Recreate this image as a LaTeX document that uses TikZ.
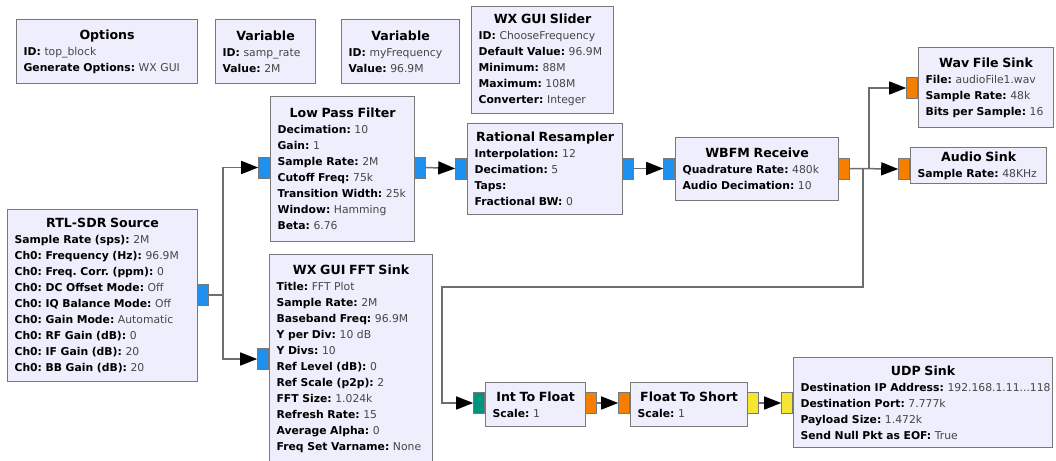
\documentclass[tikz,border=0pt]{standalone}
\usepackage{fontspec}
\setmainfont{DejaVu Sans}
\usetikzlibrary{arrows.meta}
\frenchspacing
\definecolor{blkfill}{RGB}{238,238,252}
\definecolor{blkdraw}{RGB}{120,120,120}
\definecolor{wirec}{RGB}{110,110,110}
\definecolor{pblue}{RGB}{30,144,240}
\definecolor{porange}{RGB}{245,128,0}
\definecolor{pteal}{RGB}{0,150,125}
\definecolor{pyellow}{RGB}{245,230,50}
\definecolor{valc}{RGB}{70,70,70}
\newcommand\blkttl[1]{\makebox[\hsize][c]{\fontsize{12.6}{16}\selectfont\bfseries #1}}
\newcommand\blkkv[2]{\mbox{\textbf{#1}\ \textcolor{valc}{#2}}}
\begin{document}
\begin{tikzpicture}[x=1pt,y=-1pt,
  blk/.style={draw=blkdraw, fill=blkfill, line width=1.2pt, anchor=north west,
    inner xsep=7pt, inner ysep=2pt, align=left, font=\fontsize{10.8}{16}\selectfont},
  prt/.style={draw=blkdraw, line width=0.8pt, minimum width=11pt, minimum height=21pt, inner sep=0pt},
  wire/.style={draw=wirec, line width=1.5pt},
  arr/.style={wire, -{Triangle[length=17pt,width=13pt,color=black]}}]
\useasboundingbox (0,0) rectangle (1056,460);
\clip (0,0) rectangle (1056,460);

% blocks
\node[blk, text width=167pt, minimum height=64pt] (opts) at (16,19)
  {\blkttl{Options}\\ \blkkv{ID:}{top\_block}\\ \blkkv{Generate Options:}{WX GUI}};
\node[blk, text width=86pt, minimum height=64pt] (var1) at (215,19)
  {\blkttl{Variable}\\ \blkkv{ID:}{samp\_rate}\\ \blkkv{Value:}{2M}};
\node[blk, text width=104pt, minimum height=64pt] (var2) at (341,19)
  {\blkttl{Variable}\\ \blkkv{ID:}{myFrequency}\\ \blkkv{Value:}{96.9M}};
\node[blk, text width=128pt, minimum height=107pt] (slider) at (471,6)
  {\blkttl{WX GUI Slider}\\ \blkkv{ID:}{ChooseFrequency}\\ \blkkv{Default Value:}{96.9M}\\
   \blkkv{Minimum:}{88M}\\ \blkkv{Maximum:}{108M}\\ \blkkv{Converter:}{Integer}};
\node[blk, text width=130pt, minimum height=145pt] (lpf) at (270,96)
  {\blkttl{Low Pass Filter}\\ \blkkv{Decimation:}{10}\\ \blkkv{Gain:}{1}\\ \blkkv{Sample Rate:}{2M}\\
   \blkkv{Cutoff Freq:}{75k}\\ \blkkv{Transition Width:}{25k}\\ \blkkv{Window:}{Hamming}\\ \blkkv{Beta:}{6.76}};
\node[blk, text width=141pt, minimum height=91pt] (rr) at (467,123)
  {\blkttl{Rational Resampler}\\ \blkkv{Interpolation:}{12}\\ \blkkv{Decimation:}{5}\\
   \blkkv{Taps:}{}\\ \blkkv{Fractional BW:}{0}};
\node[blk, text width=149pt, minimum height=63pt] (wbfm) at (675,137)
  {\blkttl{WBFM Receive}\\ \blkkv{Quadrature Rate:}{480k}\\ \blkkv{Audio Decimation:}{10}};
\node[blk, text width=121pt, minimum height=80pt] (wav) at (918,47)
  {\blkttl{Wav File Sink}\\ \blkkv{File:}{audioFile1.wav}\\ \blkkv{Sample Rate:}{48k}\\ \blkkv{Bits per Sample:}{16}};
\node[blk, text width=122pt, minimum height=36pt] (audio) at (910,147)
  {\blkttl{Audio Sink}\\ \blkkv{Sample Rate:}{48KHz}};
\node[blk, text width=176pt, minimum height=172pt] (rtl) at (7,209)
  {\blkttl{RTL-SDR Source}\\ \blkkv{Sample Rate (sps):}{2M}\\ \blkkv{Ch0: Frequency (Hz):}{96.9M}\\
   \blkkv{Ch0: Freq.\ Corr.\ (ppm):}{0}\\ \blkkv{Ch0: DC Offset Mode:}{Off}\\ \blkkv{Ch0: IQ Balance Mode:}{Off}\\
   \blkkv{Ch0: Gain Mode:}{Automatic}\\ \blkkv{Ch0: RF Gain (dB):}{0}\\ \blkkv{Ch0: IF Gain (dB):}{20}\\
   \blkkv{Ch0: BB Gain (dB):}{20}};
\node[blk, text width=149pt, minimum height=208pt] (fft) at (269,254)
  {\blkttl{WX GUI FFT Sink}\\ \blkkv{Title:}{FFT Plot}\\ \blkkv{Sample Rate:}{2M}\\ \blkkv{Baseband Freq:}{96.9M}\\
   \blkkv{Y per Div:}{10 dB}\\ \blkkv{Y Divs:}{10}\\ \blkkv{Ref Level (dB):}{0}\\ \blkkv{Ref Scale (p2p):}{2}\\
   \blkkv{FFT Size:}{1.024k}\\ \blkkv{Refresh Rate:}{15}\\ \blkkv{Average Alpha:}{0}\\ \blkkv{Freq Set Varname:}{None}};
\node[blk, text width=86pt, minimum height=44pt] (i2f) at (485,382)
  {\blkttl{Int To Float}\\ \blkkv{Scale:}{1}};
\node[blk, text width=103pt, minimum height=44pt] (f2s) at (630,382)
  {\blkttl{Float To Short}\\ \blkkv{Scale:}{1}};
\node[blk, text width=245pt, minimum height=90pt] (udp) at (793,357)
  {\blkttl{UDP Sink}\\ \blkkv{Destination IP Address:}{192.168.1.11...118}\\ \blkkv{Destination Port:}{7.777k}\\
   \blkkv{Payload Size:}{1.472k}\\ \blkkv{Send Null Pkt as EOF:}{True}};

% ports
\node[prt, fill=pblue, anchor=west] (rtlo) at (197,295) {};
\node[prt, fill=pblue, anchor=east] (lpfi) at (270,167.5) {};
\node[prt, fill=pblue, anchor=west] (lpfo) at (414,167.5) {};
\node[prt, fill=pblue, anchor=east] (ffti) at (269,359) {};
\node[prt, fill=pblue, anchor=east] (rri) at (467,168.5) {};
\node[prt, fill=pblue, anchor=west] (rro) at (622,168.5) {};
\node[prt, fill=pblue, anchor=east] (wbfmi) at (675,168.5) {};
\node[prt, fill=porange, anchor=west] (wbfmo) at (838,168.5) {};
\node[prt, fill=porange, anchor=east] (wavi) at (918,88) {};
\node[prt, fill=porange, anchor=east] (audioi) at (910,169) {};
\node[prt, fill=pteal, anchor=east] (i2fi) at (485,403) {};
\node[prt, fill=porange, anchor=west] (i2fo) at (585,403) {};
\node[prt, fill=porange, anchor=east] (f2si) at (630,403) {};
\node[prt, fill=pyellow, anchor=west] (f2so) at (747,403) {};
\node[prt, fill=pyellow, anchor=east] (udpi) at (793,403) {};

% connectors
\coordinate (tA) at (442,287);
\draw[arr] (rtlo.east) -- ++(14,0) |- (lpfi.west);
\draw[arr] (rtlo.east) -- ++(14,0) |- (ffti.west);
\draw[arr] (lpfo.east) -- (rri.west);
\draw[arr] (rro.east) -- (wbfmi.west);
\draw[arr] (wbfmo.east) -- (audioi.west);
\draw[arr] (wbfmo.east) -- ++(19,0) |- (wavi.west);
\draw[arr] (wbfmo.east) -- ++(13,0) |- (tA) |- (i2fi.west);
\draw[arr] (i2fo.east) -- (f2si.west);
\draw[arr] (f2so.east) -- (udpi.west);
\end{tikzpicture}
\end{document}
